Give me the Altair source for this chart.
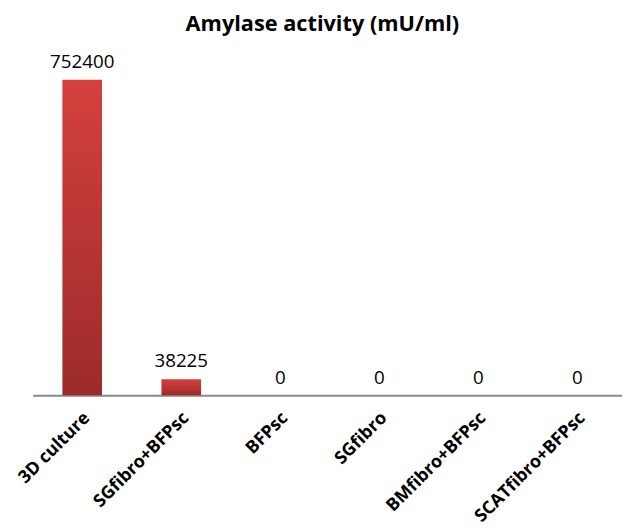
import altair as alt
import pandas as pd

categories = ["3D culture", "SGfibro+BFPsc", "BFPsc", "SGfibro", "BMfibro+BFPsc", "SCATfibro+BFPsc"]
values = [752400, 38225, 0, 0, 0, 0]

df = pd.DataFrame({"cat": categories, "val": values})

x = alt.X("cat:N", sort=categories, title=None,
          scale=alt.Scale(paddingInner=0.6, paddingOuter=0.3, range=[0, 602]),
          axis=alt.Axis(labelAngle=-45, labelAlign="right", labelBaseline="middle",
                        labelFont="Open Sans", labelFontWeight="bold", labelFontSize=18,
                        labelColor="#000", ticks=False, labelPadding=20, labelOffset=5,
                        domainColor="#888", domainWidth=2))
y = alt.Y("val:Q", scale=alt.Scale(domain=[0, 800000]), axis=None)

bars = alt.Chart(df).mark_bar(
    color=alt.Gradient(gradient="linear", x1=0, y1=0, x2=0, y2=1,
                       stops=[alt.GradientStop(color="#d4403d", offset=0),
                              alt.GradientStop(color="#9c2b2b", offset=1)])
).encode(x=x, y=y)

labels = alt.Chart(df).mark_text(baseline="alphabetic", dy=-12, font="Open Sans",
                                 fontSize=19, color="#000").encode(
    x=alt.X("cat:N", sort=categories), y="val:Q", text="val:Q")

chart = (bars + labels).properties(
    width=597, height=340,
    autosize=alt.AutoSizeParams(type="none"),
    padding={"left": 25, "top": 49, "right": 0, "bottom": 133},
    title=alt.TitleParams("Amylase activity (mU/ml)", font="Open Sans", fontSize=22,
                          fontWeight="bold", color="#000", offset=17, anchor="middle", dx=-5),
).configure_view(stroke=None)

chart.save("out.html", embed_options={"renderer": "svg", "actions": False})
